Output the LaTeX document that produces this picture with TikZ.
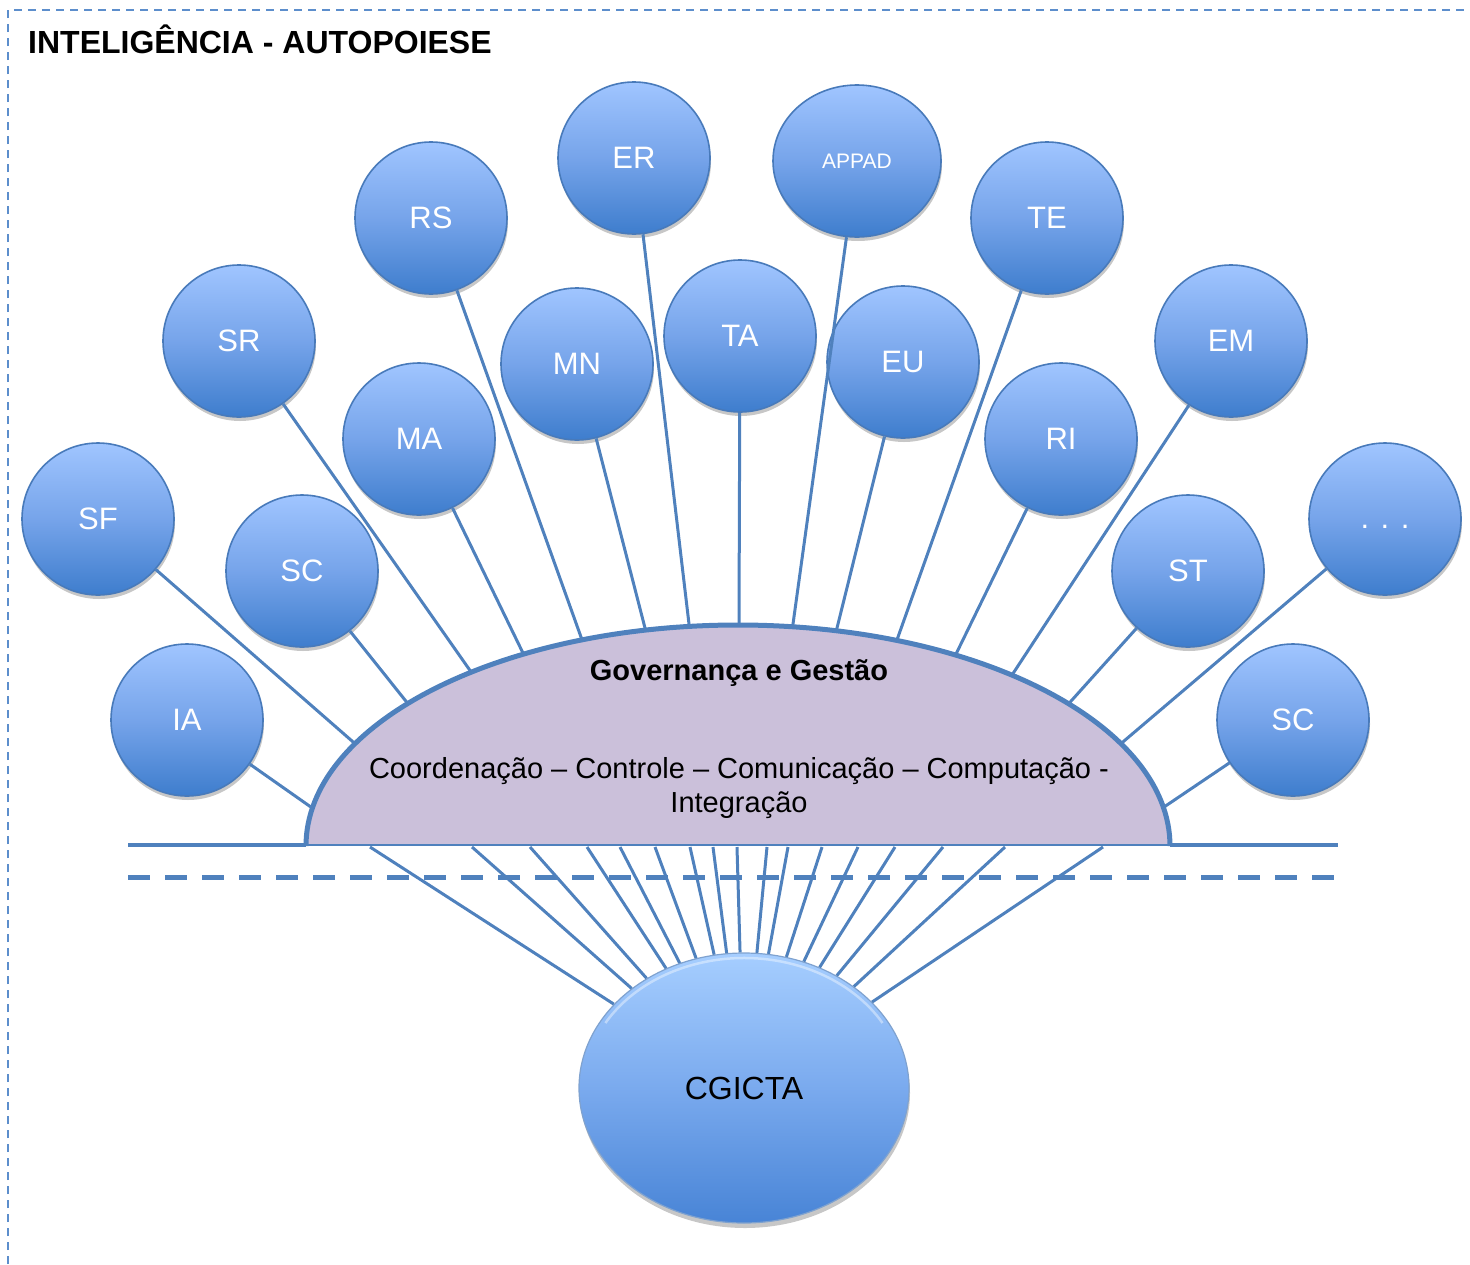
\documentclass[tikz,border=0pt]{standalone}
\usepackage{fontspec}
\setmainfont{Liberation Sans}
\usetikzlibrary{shapes.geometric,shadows}

\definecolor{lineblue}{RGB}{79,129,189}
\definecolor{bubtop}{RGB}{160,197,255}
\definecolor{bubmid}{RGB}{118,164,234}
\definecolor{bubbot}{RGB}{62,125,205}
\definecolor{bubedge}{RGB}{72,122,186}
\definecolor{cgtop}{RGB}{166,206,255}
\definecolor{cgmid}{RGB}{122,170,238}
\definecolor{cgbot}{RGB}{72,132,214}
\definecolor{lavender}{RGB}{203,192,218}
\definecolor{frameblue}{RGB}{92,142,204}

\begin{document}
\begin{tikzpicture}[x=1pt,y=-1pt,
  bub/.style={circle,minimum size=152pt,inner sep=0pt,draw=bubedge,line width=1.6pt,
    top color=bubtop,bottom color=bubbot,middle color=bubmid,text=white,
    font=\fontsize{31}{36}\selectfont,
    drop shadow={shadow xshift=1pt,shadow yshift=-4pt,opacity=0.22,fill=black}},
  link/.style={draw=lineblue,line width=3pt},
  hub/.style={draw=lineblue,line width=3pt},
  txt/.style={inner sep=0pt,anchor=base,font=\fontsize{29}{35}\selectfont}]

\useasboundingbox (0,0) rectangle (1470,1264);

% page frame and heading
\draw[frameblue,line width=1.8pt,dash pattern=on 8pt off 6pt] (8,1264) -- (8,10) -- (1470,10);
\node[inner sep=0pt,anchor=base west,font=\bfseries\fontsize{32}{38}\selectfont] (title) at (28,53) {INTELIGÊNCIA - AUTOPOIESE};

% outer ring of subsystems
\node[bub] (ER) at (634,158) {ER};
\node[bub,ellipse,minimum width=168pt,minimum height=152pt,font=\fontsize{21}{26}\selectfont] (APPAD) at (857,161) {APPAD};
\node[bub] (RS) at (431,218) {RS};
\node[bub] (TE) at (1047,218) {TE};
\node[bub] (SR) at (239,341) {SR};
\node[bub] (EM) at (1231,341) {EM};
\node[bub] (MN) at (577,364) {MN};
\node[bub] (TA) at (740,336) {TA};
\node[bub] (EU) at (903,362) {EU};
\node[bub] (MA) at (419,439) {MA};
\node[bub] (RI) at (1061,439) {RI};
\node[bub] (SF) at (98,519) {SF};
\node[bub,text height=18pt,text depth=0pt] (DOTS) at (1385,519) {. . .};
\node[bub] (SCa) at (302,571) {SC};
\node[bub] (ST) at (1188,571) {ST};
\node[bub] (IA) at (187,720) {IA};
\node[bub] (SCb) at (1293,720) {SC};

% central committee
\node[ellipse,minimum width=330pt,minimum height=270pt,inner sep=0pt,
  draw=bubedge!70,line width=1.2pt,top color=cgtop,bottom color=cgbot,middle color=cgmid,
  font=\fontsize{32}{38}\selectfont,
  drop shadow={shadow xshift=1pt,shadow yshift=-5pt,opacity=0.22,fill=black}] (CG) at (744,1088) {CGICTA};
\draw[white,opacity=0.4,line width=2.5pt] (605.4,1023) arc[start angle=150,end angle=30,x radius=160pt,y radius=130pt];

% attachment points on the dome
\coordinate (aIA) at (308,805);
\coordinate (aSF) at (352,741);
\coordinate (aSCa) at (405,700);
\coordinate (aSR) at (469,669);
\coordinate (aMA) at (522,651);
\coordinate (aRS) at (581,637);
\coordinate (aMN) at (645,628);
\coordinate (aER) at (689,624);
\coordinate (aTA) at (739,622);
\coordinate (aAPPAD) at (793,624);
\coordinate (aEU) at (837,628);
\coordinate (aTE) at (898,637);
\coordinate (aRI) at (957,652);
\coordinate (aEM) at (1014,672);
\coordinate (aST) at (1072,700);
\coordinate (aDOTS) at (1124,741);
\coordinate (aSCb) at (1167,805);

\foreach \n in {IA,SF,SCa,SR,MA,RS,MN,ER,TA,APPAD,EU,TE,RI,EM,ST,DOTS,SCb}
  \draw[link,shorten >=-10pt] (\n) -- (a\n);

% the dome
\fill[lavender] (306,845) arc[start angle=180,end angle=0,x radius=432pt,y radius=221pt] -- cycle;
\draw[lineblue,line width=5pt] (306,846) arc[start angle=180,end angle=0,x radius=432pt,y radius=221pt];
\coordinate (gl) at (128,845);
\coordinate (gr) at (1338,845);
\coordinate (dl) at (306,845);
\coordinate (dr) at (1170,845);
\draw[lineblue,line width=4.5pt] (gl) -- (dl);
\draw[lineblue,line width=4.5pt] (dr) -- (gr);
\draw[lineblue,line width=1.6pt] (dl) -- (dr);

% spokes from the dome base down to the committee
\foreach \x [count=\i] in {370,472,530,587,620,655,690,713,737,767,788,822,858,895,943,1005,1103} {
  \coordinate (b\i) at (\x,847);
  \draw[hub] (b\i) -- (CG);
}

% dashed boundary
\coordinate (ql) at (128,877);
\coordinate (qr) at (1338,877);
\draw[lineblue,line width=5pt,dash pattern=on 22pt off 15pt] (ql) -- (qr);

% dome texts
\node[txt,font=\bfseries\fontsize{29}{35}\selectfont] (gov) at (739,680) {Governança e Gestão};
\node[txt] (funcs) at (739,778) {Coordenação – Controle – Comunicação – Computação -};
\node[txt] (integ) at (739,812) {Integração};

\end{tikzpicture}
\end{document}
